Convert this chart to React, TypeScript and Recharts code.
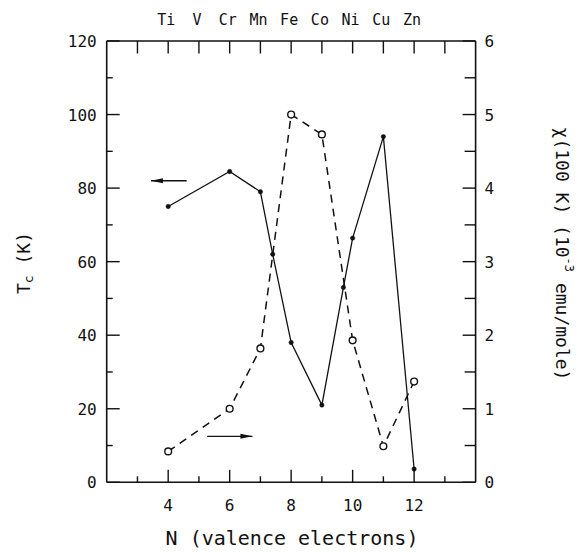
import { LineChart, Line, XAxis, YAxis, ReferenceLine } from 'recharts';

// Tc (K) vs valence electron count (left axis, solid line)
const tcN = [4, 6, 7, 7.4, 8, 9, 9.7, 10, 11, 12];
const tcK = [75, 84.5, 79, 62, 38, 21, 53, 66.4, 94, 3.6];

// chi(100 K) in 1e-3 emu/mole (right axis, dashed line)
const chiN = [4, 6, 7, 8, 9, 10, 11, 12];
const chiVal = [0.42, 1.0, 1.82, 5.0, 4.73, 1.93, 0.49, 1.37];

const elements = ['Ti', 'V', 'Cr', 'Mn', 'Fe', 'Co', 'Ni', 'Cu', 'Zn'];
const elementN = [4, 5, 6, 7, 8, 9, 10, 11, 12];

const xTicks = [3, 4, 5, 6, 7, 8, 9, 10, 11, 12, 13];
const xLabels = [4, 6, 8, 10, 12];
const leftTicks = [0, 10, 20, 30, 40, 50, 60, 70, 80, 90, 100, 110, 120];
const rightTicks = [0, 0.5, 1, 1.5, 2, 2.5, 3, 3.5, 4, 4.5, 5, 5.5, 6];

const tcData = tcN.map((n, i) => ({ n, tc: tcK[i] }));
const chiData = chiN.map((n, i) => ({ n, chi: chiVal[i] }));

const FONT = '"DejaVu Sans Mono", monospace';
const INK = '#111';

const BottomTick = ({ x, y, payload }: any) => {
  const v = payload.value;
  const major = v % 2 === 0;
  return (
    <g>
      <line x1={x} y1={y} x2={x} y2={y - (major ? 12.5 : 6)} stroke={INK} strokeWidth={1.4} />
      {xLabels.includes(v) && (
        <text x={x} y={y + 29} textAnchor="middle" fontFamily={FONT} fontSize={16} fill={INK}>
          {v}
        </text>
      )}
    </g>
  );
};

const TopTick = ({ x, y, payload }: any) => {
  const v = payload.value;
  const idx = elementN.indexOf(v);
  return (
    <g>
      <line x1={x} y1={y} x2={x} y2={y + 12.5} stroke={INK} strokeWidth={1.4} />
      {idx >= 0 && (
        <text x={x - 2} y={y - 16} textAnchor="middle" fontFamily={FONT} fontSize={15} fill={INK}>
          {elements[idx]}
        </text>
      )}
    </g>
  );
};

const LeftTick = ({ x, y, payload }: any) => {
  const v = payload.value;
  const major = v % 20 === 0;
  return (
    <g>
      <line x1={x} y1={y} x2={x + (major ? 13 : 6)} y2={y} stroke={INK} strokeWidth={1.4} />
      {major && (
        <text x={x - 10} y={y + 6} textAnchor="end" fontFamily={FONT} fontSize={16} fill={INK}>
          {v}
        </text>
      )}
    </g>
  );
};

const RightTick = ({ x, y, payload }: any) => {
  const v = payload.value;
  const major = Number.isInteger(v);
  return (
    <g>
      <line x1={x} y1={y} x2={x - (major ? 13 : 11)} y2={y} stroke={INK} strokeWidth={1.4} />
      {major && (
        <text x={x + 9} y={y + 6} textAnchor="start" fontFamily={FONT} fontSize={16} fill={INK}>
          {v}
        </text>
      )}
    </g>
  );
};

// arrow drawn along a reference segment, head at the "head" end
const arrowShape = (head: 'start' | 'end') => (props: any) => {
  const { x1, y1, x2, y2 } = props;
  const hx = head === 'start' ? x1 : x2;
  const hy = head === 'start' ? y1 : y2;
  const dir = head === 'start' ? 1 : -1;
  return (
    <g>
      <line x1={x1} y1={y1} x2={x2} y2={y2} stroke={INK} strokeWidth={1.3} />
      <polygon
        points={`${hx},${hy} ${hx + dir * 12},${hy - 2.5} ${hx + dir * 12},${hy + 2.5}`}
        fill={INK}
      />
    </g>
  );
};

export default function App() {
  return (
    <div style={{ position: 'absolute', left: 0, top: 0, width: 581, height: 552, background: '#fff' }}>
      <LineChart
        width={581}
        height={552}
        margin={{ top: 11, right: 45.4, bottom: 29.7, left: 46.7 }}
      >
        <XAxis
          xAxisId="bottom"
          type="number"
          dataKey="n"
          domain={[2, 14]}
          ticks={xTicks}
          interval={0}
          height={40}
          tickSize={0}
          tickMargin={0}
          tickLine={false}
          axisLine={{ stroke: INK, strokeWidth: 1.6 }}
          tick={<BottomTick />}
          allowDataOverflow
        />
        <XAxis
          xAxisId="top"
          orientation="top"
          type="number"
          dataKey="n"
          domain={[2, 14]}
          ticks={xTicks}
          interval={0}
          height={30}
          tickSize={0}
          tickMargin={0}
          tickLine={false}
          axisLine={{ stroke: INK, strokeWidth: 1.6 }}
          tick={<TopTick />}
          allowDataOverflow
        />
        <YAxis
          yAxisId="left"
          type="number"
          domain={[0, 120]}
          ticks={leftTicks}
          interval={0}
          width={60}
          tickSize={0}
          tickMargin={0}
          tickLine={false}
          axisLine={{ stroke: INK, strokeWidth: 1.6 }}
          tick={<LeftTick />}
          allowDataOverflow
        />
        <YAxis
          yAxisId="right"
          orientation="right"
          type="number"
          domain={[0, 6]}
          ticks={rightTicks}
          interval={0}
          width={60}
          tickSize={0}
          tickMargin={0}
          tickLine={false}
          axisLine={{ stroke: INK, strokeWidth: 1.6 }}
          tick={<RightTick />}
          allowDataOverflow
        />

        {/* arrows pointing to each curve's axis */}
        <ReferenceLine
          xAxisId="bottom"
          yAxisId="left"
          segment={[{ x: 3.44, y: 82 }, { x: 4.6, y: 82 }]}
          shape={arrowShape('start')}
        />
        <ReferenceLine
          xAxisId="bottom"
          yAxisId="left"
          segment={[{ x: 5.27, y: 12.5 }, { x: 6.74, y: 12.5 }]}
          shape={arrowShape('end')}
        />

        <Line
          data={chiData}
          xAxisId="bottom"
          yAxisId="right"
          dataKey="chi"
          type="linear"
          stroke={INK}
          strokeWidth={1.5}
          strokeDasharray="8 6"
          dot={{ r: 3.4, fill: '#fff', stroke: INK, strokeWidth: 1.4, strokeDasharray: 'none' }}
          isAnimationActive={false}
        />
        <Line
          data={tcData}
          xAxisId="bottom"
          yAxisId="left"
          dataKey="tc"
          type="linear"
          stroke={INK}
          strokeWidth={1.3}
          dot={{ r: 2.2, fill: INK, stroke: INK, strokeWidth: 0.5 }}
          isAnimationActive={false}
        />
      </LineChart>

      {/* axis titles */}
      <svg
        width={581}
        height={552}
        style={{ position: 'absolute', left: 0, top: 0, pointerEvents: 'none' }}
      >
        <text
          transform="translate(30,263) rotate(-90)"
          textAnchor="middle"
          fontFamily={FONT}
          fontSize={18}
          fill={INK}
        >
          T<tspan fontSize={13} dy={3}>c</tspan>
          <tspan dy={-3}> (K)</tspan>
        </text>
        <text
          transform="translate(556,254) rotate(90)"
          textAnchor="middle"
          fontFamily={FONT}
          fontSize={18}
          fill={INK}
        >
          χ(100 K)  (10<tspan fontSize={12} dy={-9}>-3</tspan>
          <tspan dy={9}> emu/mole)</tspan>
        </text>
        <text x={292} y={545} textAnchor="middle" fontFamily={FONT} fontSize={20} fill={INK}>
          N (valence electrons)
        </text>
      </svg>
    </div>
  );
}
